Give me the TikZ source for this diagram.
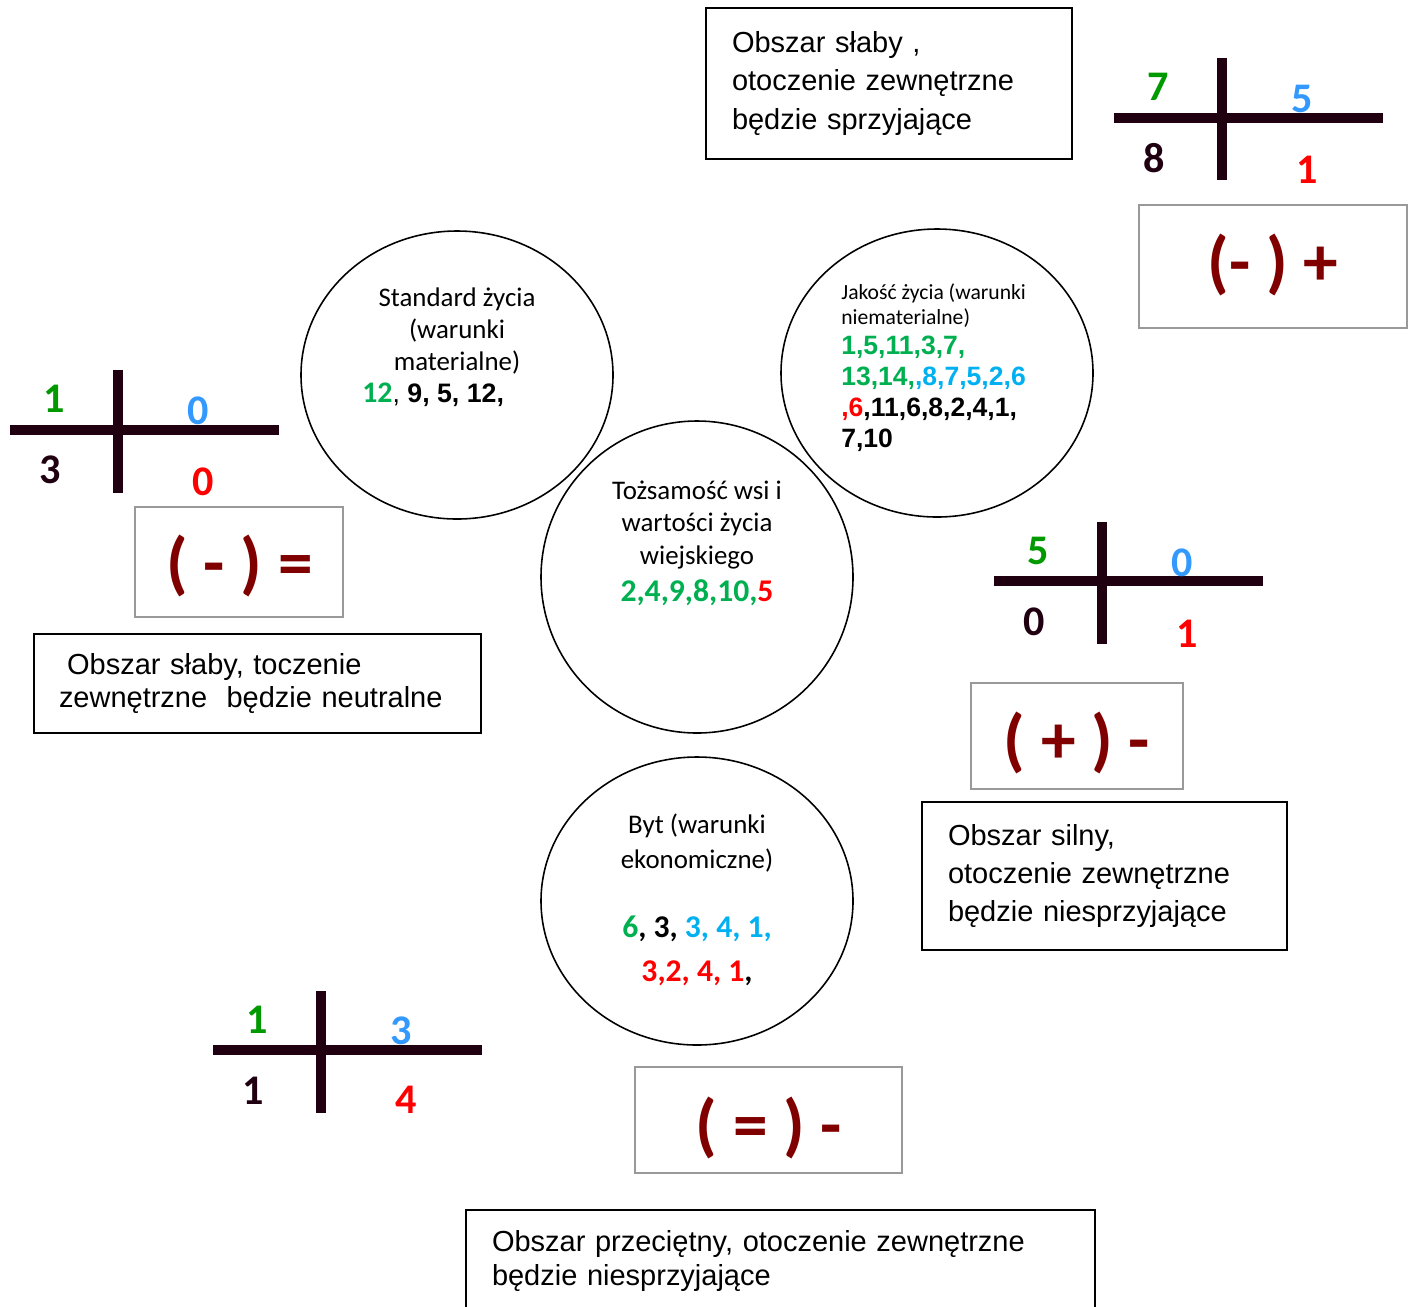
\documentclass[tikz,border=0pt]{standalone}
\usepackage{fontspec}
\setmainfont{Liberation Sans}
\newfontfamily\calibri{Carlito}
\usetikzlibrary{shapes.geometric}
\definecolor{numgreen}{HTML}{00B050}
\definecolor{crossgreen}{HTML}{009900}
\definecolor{crossblue}{HTML}{3399FF}
\definecolor{numcyan}{HTML}{00B0F0}
\definecolor{crossdark}{HTML}{200010}
\definecolor{signred}{HTML}{800000}
\definecolor{boxgray}{HTML}{999999}
\def\pix{0.02cm}

\begin{document}
\begin{tikzpicture}[x=0.02cm, y=-0.02cm]
	\tikzstyle{crossLine}=[line width=10*\pix, draw=crossdark]
	\tikzstyle{quadNum}=[inner sep=0pt, font=\calibri\bfseries\fontsize{24}{24}\selectfont]
	\tikzstyle{signBox}=[draw=boxgray, line width=0.8pt, inner sep=0pt]
	\tikzstyle{signText}=[inner sep=0pt, text=signred, font=\calibri\bfseries\fontsize{39.5}{39.5}\selectfont]
	\tikzstyle{textBox}=[draw, line width=0.8pt, align=left, inner ysep=0pt]
	\tikzstyle{circleStyle}=[ellipse, draw, line width=0.9pt, inner sep=0pt, minimum width=312*\pix]
	\tikzstyle{circleText}=[inner sep=0pt, align=center, font=\calibri\fontsize{15.3}{18.4}\selectfont]
	\useasboundingbox (0,0) rectangle (1413,1306);
	\clip (0,0) rectangle (1413,1306);
	% circles
	\node[circleStyle, minimum height=288*\pix] (std) at (457,375) {};
	\node[circleStyle, minimum height=288*\pix] (jak) at (937,373) {};
	\node[circleStyle, minimum height=312*\pix] (toz) at (697,577) {};
	\node[circleStyle, minimum height=288*\pix] (byt) at (697,901) {};
	\node[circleText] (stdT) at (457,331) {Standard życia\\(warunki\\materialne)};
	\node[inner sep=0pt, anchor=west, font=\bfseries\fontsize{15.2}{17}\selectfont] (stdN) at (362,395)
		{{\calibri\fontsize{17}{17}\selectfont\color{numgreen}12}{\mdseries,} 9, 5, 12,};
	\node[inner sep=0pt, anchor=west, align=left, font=\calibri\fontsize{12.3}{14}\selectfont] (jakT) at (841,305.5)
		{Jakość życia (warunki\\niematerialne)};
	\node[inner sep=0pt, anchor=west, align=left, font=\bfseries\fontsize{15.1}{17.6}\selectfont] (jakN) at (841,393.5)
		{\color{numgreen}1,5,11,3,7,\\
		\color{numgreen}13,14,\color{numcyan},8,7,5,2,6\\
		\color{red},6\color{black},11,6,8,2,4,1,\\
		7,10};
	\node[circleText, font=\calibri\fontsize{15.3}{18.7}\selectfont] (tozT) at (697,525) {Tożsamość wsi i\\wartości życia\\wiejskiego};
	\node[inner sep=0pt, font=\calibri\bfseries\fontsize{18}{18}\selectfont] (tozN) at (697,593)
		{\color{numgreen}2,4,9,8,10,\color{red}5};
	\node[circleText, font=\calibri\fontsize{15.3}{20.4}\selectfont] (bytT) at (697,843) {Byt (warunki\\ekonomiczne)};
	\node[inner sep=0pt, align=center, font=\calibri\bfseries\fontsize{18}{25}\selectfont] (bytN) at (697,951)
		{\color{numgreen}6\color{black}, 3, \color{numcyan}3, 4, 1,\\
		\color{red}3,2, 4, 1\color{black},};
	% top right cross
	\draw[crossLine] (1114,118) -- (1383,118);
	\draw[crossLine] (1222,58) -- (1222,180);
	\node[quadNum, text=crossgreen] (a1) at (1158,87) {7};
	\node[quadNum, text=crossblue] (a2) at (1302,99) {5};
	\node[quadNum, text=crossdark] (a3) at (1154,158) {8};
	\node[quadNum, text=red] (a4) at (1307,170) {1};
	\node[signBox, minimum width=268*\pix, minimum height=123*\pix] (aS) at (1273,266.5) {};
	\node[signText] (aSign) at (1273,265) {(- ) +};
	\node[textBox, text width=314*\pix, inner xsep=26*\pix, minimum height=151*\pix,
		font=\fontsize{16.5}{21.8}\selectfont] (aT) at (889,83.5)
		{Obszar słaby ,\\otoczenie zewnętrzne\\będzie sprzyjające};
	% left cross
	\draw[crossLine] (10,430) -- (279,430);
	\draw[crossLine] (118,370) -- (118,493);
	\node[quadNum, text=crossgreen] (b1) at (54,399) {1};
	\node[quadNum, text=crossblue] (b2) at (198,411) {0};
	\node[quadNum, text=crossdark] (b3) at (50,470) {3};
	\node[quadNum, text=red] (b4) at (203,482) {0};
	\node[signBox, minimum width=208*\pix, minimum height=110*\pix] (bS) at (239,562) {};
	\node[signText] (bSign) at (239.5,566) {( - ) =};
	\node[textBox, text width=397*\pix, inner xsep=25*\pix, minimum height=99*\pix,
		font=\fontsize{16.5}{18.7}\selectfont] (bT) at (257.5,683.5)
		{\hspace*{.28em}Obszar słaby, toczenie\\zewnętrzne\ \ będzie neutralne};
	% right cross
	\draw[crossLine] (994,581) -- (1263,581);
	\draw[crossLine] (1102,522) -- (1102,644);
	\node[quadNum, text=crossgreen] (c1) at (1038,551) {5};
	\node[quadNum, text=crossblue] (c2) at (1182,563) {0};
	\node[quadNum, text=crossdark] (c3) at (1034,622) {0};
	\node[quadNum, text=red] (c4) at (1187,634) {1};
	\node[signBox, minimum width=212*\pix, minimum height=106*\pix] (cS) at (1077,736) {};
	\node[signText] (cSign) at (1077,742.5) {( + ) -};
	\node[textBox, text width=313*\pix, inner xsep=26*\pix, minimum height=148*\pix,
		font=\fontsize{16.5}{21.8}\selectfont] (cT) at (1104.5,876)
		{Obszar silny,\\otoczenie zewnętrzne\\będzie niesprzyjające};
	% bottom cross
	\draw[crossLine] (213,1050) -- (482,1050);
	\draw[crossLine] (321,991) -- (321,1113);
	\node[quadNum, text=crossgreen] (d1) at (257,1020) {1};
	\node[quadNum, text=crossblue] (d2) at (401,1031) {3};
	\node[quadNum, text=crossdark] (d3) at (253,1091) {1};
	\node[quadNum, text=red] (d4) at (406,1100) {4};
	\node[signBox, minimum width=267*\pix, minimum height=106*\pix] (dS) at (768.5,1120) {};
	\node[signText] (dSign) at (769,1127.5) {( = ) -};
	\node[textBox, text width=577*\pix, inner xsep=26*\pix, minimum height=102*\pix,
		font=\fontsize{16.5}{19.3}\selectfont] (dT) at (780.5,1261)
		{Obszar przeciętny, otoczenie zewnętrzne\\będzie niesprzyjające};
\end{tikzpicture}
\end{document}
